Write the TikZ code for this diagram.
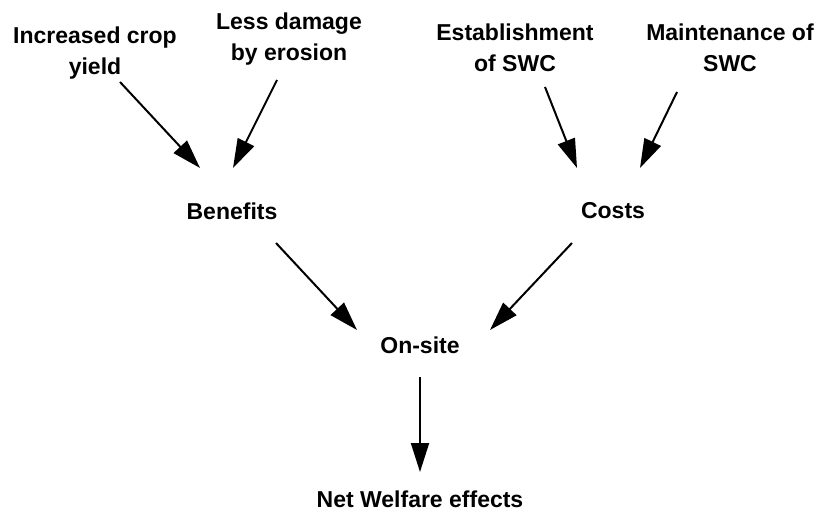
\documentclass[tikz,border=0pt]{standalone}
\usepackage{fontspec}
\setmainfont{Liberation Sans}
\usetikzlibrary{arrows.meta,positioning}

\begin{document}
\begin{tikzpicture}[x=1pt, y=-1pt,
  lbl/.style={align=center, inner sep=0pt, font=\fontsize{23}{31}\selectfont\bfseries},
  flow/.style={-{Triangle[length=29pt, width=18pt]}, line width=2pt}
]
  \useasboundingbox (0,0) rectangle (819,518);

  \node[lbl] (yield) at (95,53) {Increased crop\\yield};
  \node[lbl] (erosion) at (289,39) {Less damage\\by erosion};
  \node[lbl] (estab) at (515,48) {Establishment\\of SWC};
  \node[lbl] (maint) at (730,48) {Maintenance of\\SWC};

  \node[lbl] (benefits) at (232,211) {Benefits};
  \node[lbl] (costs) at (613,211) {Costs};
  \node[lbl] (onsite) at (420,345) {On-site};
  \node[lbl] (net) at (420,499) {Net Welfare effects};

  \draw[flow] ([shift={(25,29)}]yield.center) -- ([shift={(-32,-43)}]benefits.center);
  \draw[flow] ([shift={(-12,41)}]erosion.center) -- ([shift={(1,-43)}]benefits.center);
  \draw[flow] ([shift={(30,39)}]estab.center) -- ([shift={(-36,-43)}]costs.center);
  \draw[flow] ([shift={(-53,44)}]maint.center) -- ([shift={(27,-43)}]costs.center);
  \draw[flow] ([shift={(44,32)}]benefits.center) -- ([shift={(-63,-15)}]onsite.center);
  \draw[flow] ([shift={(-41,32)}]costs.center) -- ([shift={(70,-15)}]onsite.center);
  \draw[flow] ([shift={(0,32)}]onsite.center) -- ([shift={(0,-27)}]net.center);
\end{tikzpicture}
\end{document}
